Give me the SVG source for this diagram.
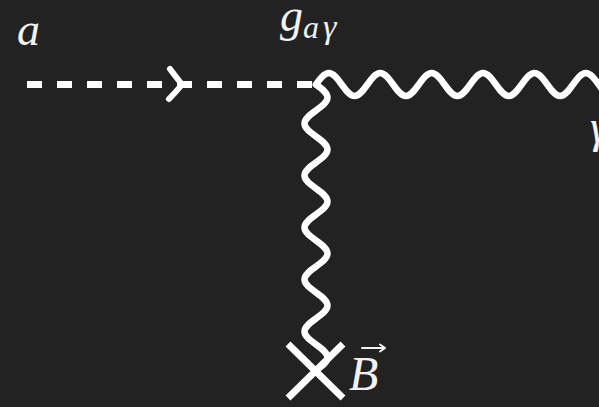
<svg xmlns="http://www.w3.org/2000/svg" width="599" height="407" viewBox="0 0 599 407">
  <style>
    .line { fill: none; stroke: #ffffff; stroke-width: 7; }
    .wave { fill: none; stroke: #ffffff; stroke-width: 6.5; stroke-linecap: round; stroke-linejoin: round; }
    .dash { fill: none; stroke: #ffffff; stroke-width: 7; stroke-dasharray: 15 15; }
    .tip { fill: none; stroke: #ffffff; stroke-width: 6; stroke-linecap: round; stroke-linejoin: round; }
  </style>
  <rect x="0" y="0" width="599" height="407" fill="#222222"/>

  <g id="connectors">
    <g id="axion-line">
      <line class="dash" x1="27" y1="84.5" x2="316" y2="84.5"/>
      <path class="tip" d="M170,69 Q176,77 182,84.5 Q176,92 169,99"/>
    </g>
    <path id="photon-out" class="wave" d="M316,84.5 c4.19,-5.89 8.2,-11.5 12.85,-11.5 s8.66,5.61 12.85,11.5 s8.2,11.5 12.85,11.5 s8.66,-5.61 12.85,-11.5
      s8.2,-11.5 12.85,-11.5 s8.66,5.61 12.85,11.5 s8.2,11.5 12.85,11.5 s8.66,-5.61 12.85,-11.5
      s8.2,-11.5 12.85,-11.5 s8.66,5.61 12.85,11.5 s8.2,11.5 12.85,11.5 s8.66,-5.61 12.85,-11.5
      s8.2,-11.5 12.85,-11.5 s8.66,5.61 12.85,11.5 s8.2,11.5 12.85,11.5 s8.66,-5.61 12.85,-11.5
      s8.2,-11.5 12.85,-11.5 s8.66,5.61 12.85,11.5 s8.2,11.5 12.85,11.5 s8.66,-5.61 12.85,-11.5
      s8.2,-11.5 12.85,-11.5 s8.66,5.61 12.85,11.5 s8.2,11.5 12.85,11.5 s8.66,-5.61 12.85,-11.5"/>
    <path id="photon-field" class="wave" d="M316,84.5 c5.89,4.24 11.5,8.29 11.5,13 s-5.61,8.76 -11.5,13 s-11.5,8.29 -11.5,13 s5.61,8.76 11.5,13
      s11.5,8.29 11.5,13 s-5.61,8.76 -11.5,13 s-11.5,8.29 -11.5,13 s5.61,8.76 11.5,13
      s11.5,8.29 11.5,13 s-5.61,8.76 -11.5,13 s-11.5,8.29 -11.5,13 s5.61,8.76 11.5,13
      s11.5,8.29 11.5,13 s-5.61,8.76 -11.5,13 s-11.5,8.29 -11.5,13 s5.61,8.76 11.5,13
      s11.5,8.29 11.5,13 s-5.61,8.76 -11.5,13 s-11.5,8.29 -11.5,13 s5.61,8.76 11.5,13
      s11.5,8.29 11.5,13 s-5.61,8.76 -11.5,13"/>
  </g>

  <g id="axion">
    <text x="17" y="45" font-size="46" font-family="Liberation Serif, serif" font-style="italic" fill="#f2f2f2">a</text>
  </g>

  <g id="vertex">
    <text x="280" y="31" font-size="46" font-family="Liberation Serif, serif" font-style="italic" fill="#f2f2f2">g</text>
    <text x="303" y="38" font-size="32" font-family="Liberation Serif, serif" font-style="italic" fill="#f2f2f2">a</text>
    <text x="323" y="38" font-size="34" font-family="Liberation Serif, serif" font-style="italic" fill="#f2f2f2">γ</text>
  </g>

  <g id="photon">
    <text x="590" y="142" font-size="46" font-family="Liberation Serif, serif" font-style="italic" fill="#f2f2f2">γ</text>
  </g>

  <g id="field">
    <path class="line" d="M288,344 L343,398 M343,344 L288,398"/>
    <text x="349" y="390" font-size="48" font-family="Liberation Serif, serif" font-style="italic" fill="#f2f2f2">B</text>
    <path d="M362,348 H384 M380,344.5 L385,348 L380,351.5" fill="none" stroke="#f2f2f2" stroke-width="2" stroke-linecap="round" stroke-linejoin="round"/>
  </g>
</svg>
